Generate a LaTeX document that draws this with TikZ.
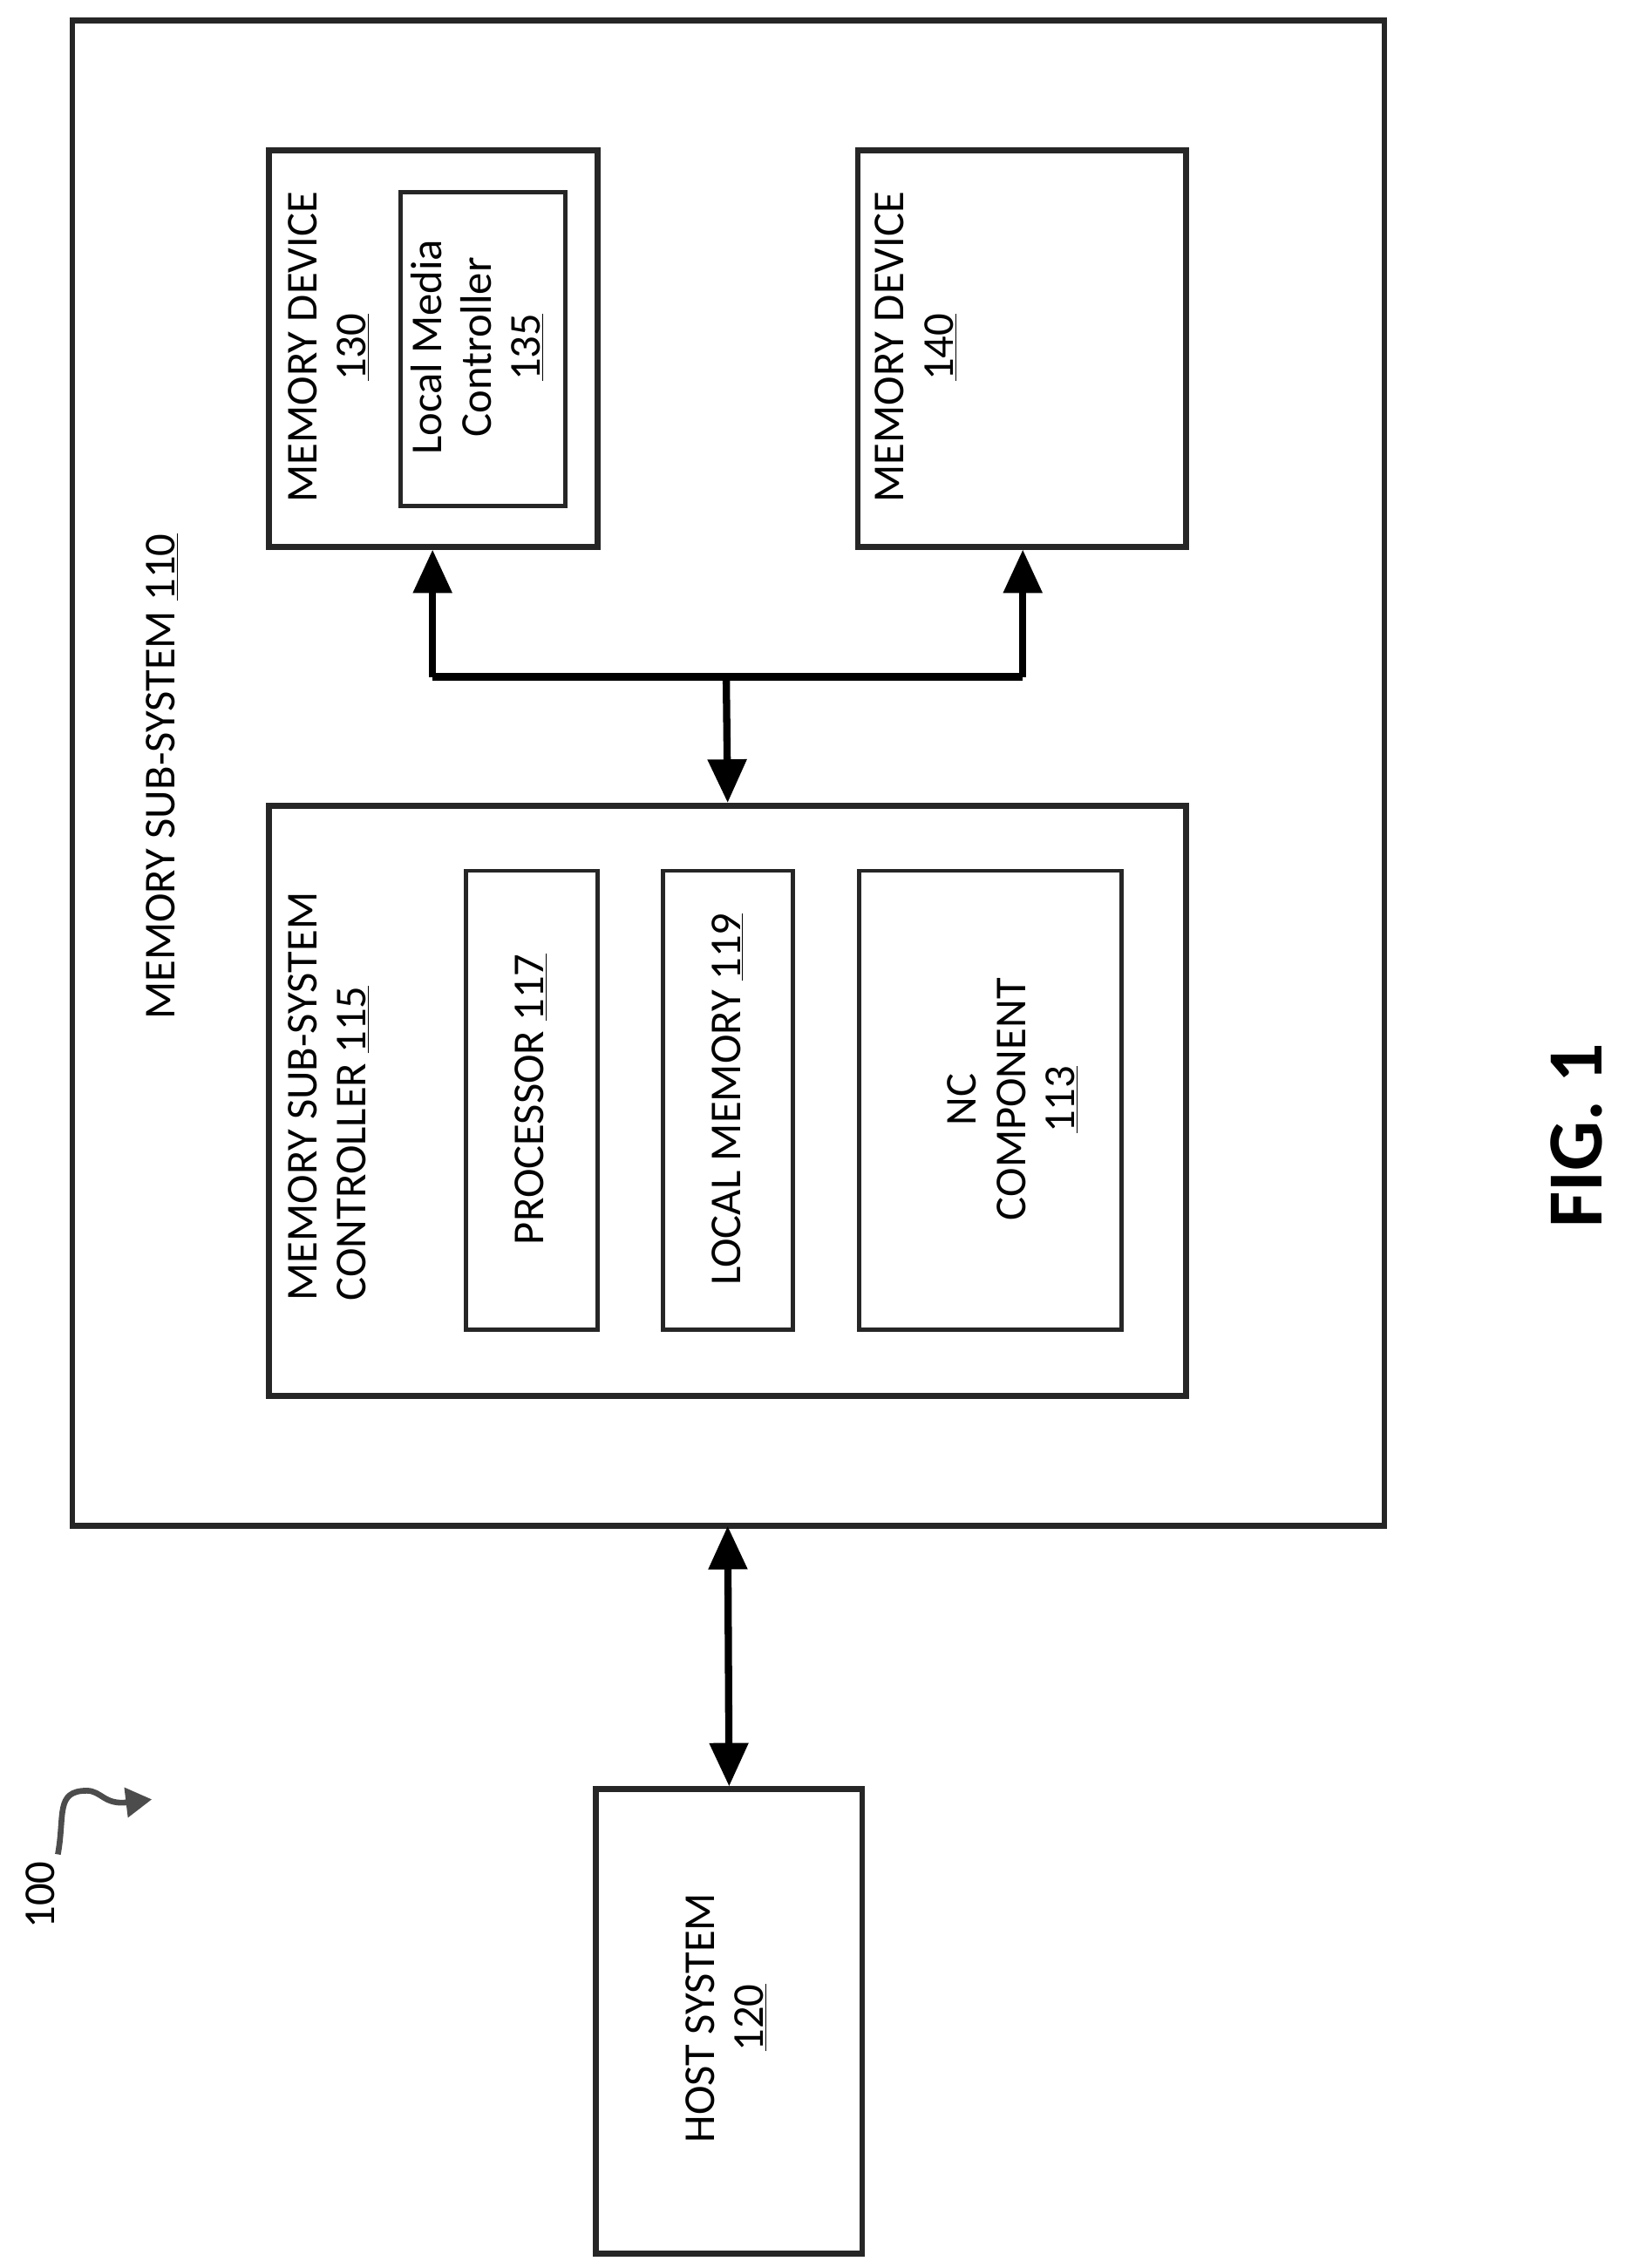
\documentclass[tikz,border=0pt]{standalone}
\usepackage{fontspec}
\setmainfont{Carlito}
\usetikzlibrary{arrows.meta}
\begin{document}
\begin{tikzpicture}[x=1pt,y=-1pt,
  box/.style={draw=black!85,line width=4pt},
  lbl/.style={rotate=90,align=center,font=\fontsize{30.5}{34}\selectfont},
  bus/.style={line width=5pt,-{Triangle[length=30pt,width=26pt]}},
  bibus/.style={line width=5pt,{Triangle[length=30pt,width=26pt]}-{Triangle[length=30pt,width=26pt]}}]
\useasboundingbox (0,0) rectangle (1123,1568);
\draw[box] (50,14) rectangle (957,1055);
\node[box,minimum width=227pt,minimum height=274pt] (md130) at (299.5,241) {};
\node[box,line width=3pt,minimum width=114pt,minimum height=217pt] (lmc) at (334,241.5) {};
\node[box,minimum width=227pt,minimum height=274pt] (md140) at (706.5,241) {};
\node[box,minimum width=634pt,minimum height=408pt] (ctl) at (503,761) {};
\node[box,line width=3pt,minimum width=91pt,minimum height=317pt] (proc) at (367.5,760.5) {};
\node[box,line width=3pt,minimum width=90pt,minimum height=317pt] (lmem) at (503,760.5) {};
\node[box,line width=3pt,minimum width=181pt,minimum height=317pt] (nc) at (684.5,760.5) {};
\node[box,minimum width=184pt,minimum height=321pt] (host) at (504,1397.5) {};
\node[lbl] at (112,537) {MEMORY SUB-SYSTEM \underline{110}};
\node[lbl] at (227,240) {MEMORY DEVICE\\\underline{130}};
\node[lbl] at (330,240) {Local Media\\Controller\\\underline{135}};
\node[lbl] at (633,240) {MEMORY DEVICE\\\underline{140}};
\node[lbl,align=left] at (227,758) {MEMORY SUB-SYSTEM\\CONTROLLER \underline{115}};
\node[lbl] at (367,760) {PROCESSOR \underline{117}};
\node[lbl] at (503,760) {LOCAL MEMORY \underline{119}};
\node[lbl] at (700,760) {NC\\COMPONENT\\\underline{113}};
\node[lbl] at (502,1395) {HOST SYSTEM\\\underline{120}};
\node[lbl,font=\bfseries\fontsize{54}{60}\selectfont] at (1090,785) {FIG. 1};
\node[lbl] (n100) at (28,1310) {100};
\coordinate (j) at (502,468);
\coordinate (jl) at (299,468);
\coordinate (jr) at (707,468);
\draw[line width=5pt] (jl) -- (jr);
\draw[bus] (jl) -- (md130.south -| jl);
\draw[bus] (jr) -- (md140.south -| jr);
\draw[bus] (j) -- (ctl.north);
\draw[bibus] (host.north) -- (ctl.north |- 0,1055);
\draw[line width=4pt,black!70,-{Triangle[length=18pt,width=20pt]}] (40,1282) .. controls (45,1255) and (38,1238) .. (60,1238) .. controls (70,1238) and (72,1248) .. (105,1244);
\end{tikzpicture}
\end{document}
